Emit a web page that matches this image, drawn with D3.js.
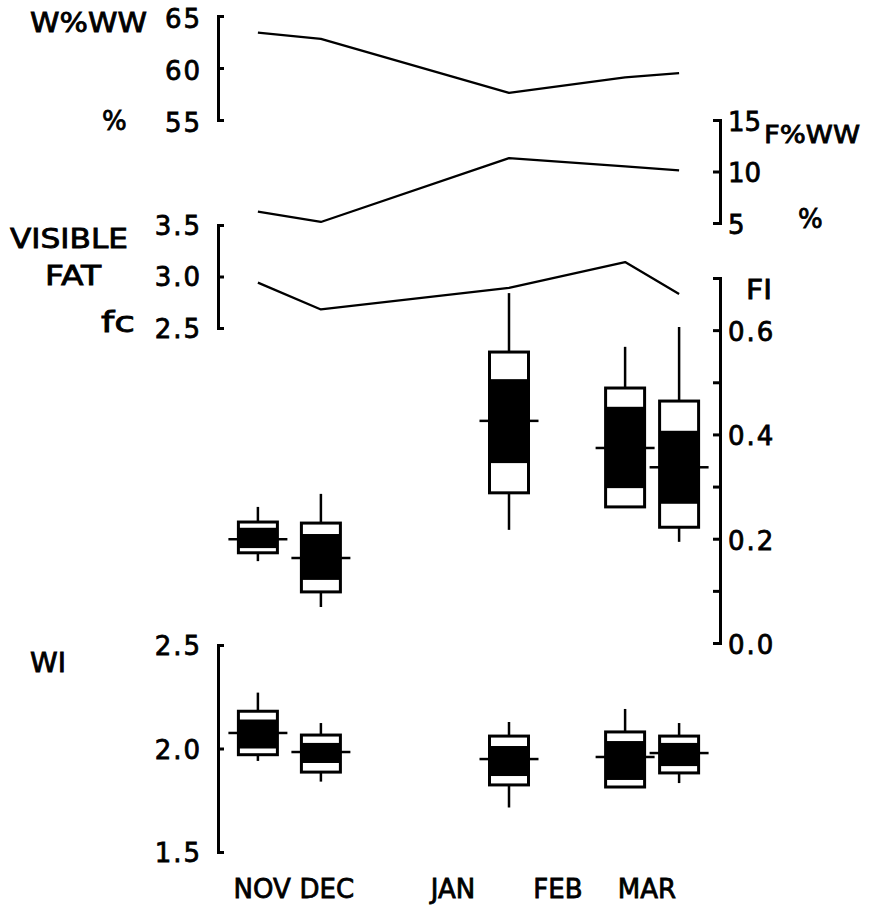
<!DOCTYPE html>
<html><head><meta charset="utf-8">
<script src="https://cdn.jsdelivr.net/npm/d3@7"></script>
<style>
body{margin:0;background:#fff;}
svg text{font-family:"DejaVu Sans",sans-serif;fill:#000;stroke:#000;stroke-width:0.8px;}
</style></head><body>
<svg id="chart" width="874" height="905"></svg>
<script>
// ---- data ----
const months = ["NOV","DEC","JAN","FEB","MAR"];
const sampleDay = [13.3, 34.3, 97, 135.7, 153.7];      // days since 1 Nov of each sample
const monthLabelDay = [14.7, 36.3, 78.3, 113.3, 143];  // label positions (days)
const waterPct = [63.4, 62.8, 57.6, 59.1, 59.5];       // W%WW
const fatPct = [6.1, 5.1, 11.3, 10.5, 10.1];           // F%WW
const visibleFat = [2.94, 2.68, 2.89, 3.14, 2.83];     // fat class

// FI box stats
const fiMin   = [0.157, 0.069, 0.217, 0.261, 0.194];
const fiBoxLo = [0.173, 0.098, 0.288, 0.261, 0.222];
const fiBlkLo = [0.182, 0.121, 0.345, 0.297, 0.267];
const fiMid   = [0.199, 0.163, 0.426, 0.374, 0.337];
const fiBlkHi = [0.221, 0.209, 0.506, 0.453, 0.407];
const fiBoxHi = [0.232, 0.230, 0.558, 0.489, 0.464];
const fiMax   = [0.261, 0.286, 0.671, 0.568, 0.606];

// WI box stats
const wiMin   = [1.940, 1.840, 1.715, 1.814, 1.833];
const wiBoxLo = [1.970, 1.886, 1.824, 1.814, 1.882];
const wiBlkLo = [2.000, 1.930, 1.867, 1.848, 1.915];
const wiMid   = [2.075, 1.983, 1.949, 1.959, 1.978];
const wiBlkHi = [2.140, 2.027, 2.012, 2.036, 2.027];
const wiBoxHi = [2.180, 2.065, 2.060, 2.080, 2.060];
const wiMax   = [2.270, 2.123, 2.128, 2.191, 2.123];

// tick values
const wTicks  = [55, 60, 65];
const fTicks  = [5, 10, 15];
const vfTicks = [2.5, 3.0, 3.5];
const fiTicks = [0, 0.1, 0.2, 0.3, 0.4, 0.5, 0.6];
const wiTicks = [1.5, 2.0, 2.5];

// ---- scales ----
const svg = d3.select("#chart");
const x = d3.scaleLinear().domain([0, 150]).range([218, 668]);
const yW  = d3.scaleLinear().domain([55, 65]).range([120, 16]);
const yF  = d3.scaleLinear().domain([5, 15]).range([223, 120]);
const yVF = d3.scaleLinear().domain([2.5, 3.5]).range([328, 225]);
const yFI = d3.scaleLinear().domain([0, 0.7]).range([643, 278]);
const yWI = d3.scaleLinear().domain([1.5, 2.5]).range([852, 645]);

const FS = 26;

function styleAxis(g){
  g.attr("font-size", null).attr("font-family", null);
  g.selectAll("path.domain").attr("stroke","#000").attr("stroke-width",3).attr("fill","none");
  g.selectAll(".tick line").attr("stroke","#000").attr("stroke-width",3);
  g.selectAll(".tick text").attr("font-size", FS).attr("letter-spacing", 2);
}

// left-side bracket axes: ticks point right, labels on the left
function leftBracket(scale, ticks, fmt, dyOff){
  const g = svg.append("g").attr("transform","translate(218,0)")
    .call(d3.axisRight(scale).tickValues(ticks).tickSize(6).tickSizeOuter(6).tickFormat(fmt));
  styleAxis(g);
  g.selectAll(".tick text").attr("x",-16).attr("text-anchor","end").attr("dy", dyOff);
  return g;
}
leftBracket(yW, wTicks, d3.format("d"), "0.45em");
leftBracket(yVF, vfTicks, d3.format(".1f"), "0.35em");
leftBracket(yWI, wiTicks, d3.format(".1f"), "0.38em");

// right-side axes: ticks point left, labels on the right
function rightBracket(scale, ticks, fmt, dyOff){
  const g = svg.append("g").attr("transform","translate(720,0)")
    .call(d3.axisLeft(scale).tickValues(ticks).tickSize(7).tickSizeOuter(7).tickFormat(fmt));
  styleAxis(g);
  g.selectAll(".tick text").attr("x",8).attr("text-anchor","start").attr("dy", dyOff);
  return g;
}
const gF = rightBracket(yF, fTicks, d3.format("d"), "0.4em");
gF.selectAll(".tick text").attr("letter-spacing", 0);
rightBracket(yFI, fiTicks, d => (Math.round(d*10) % 2 === 0 ? d3.format(".1f")(d) : ""), "0.4em");

// ---- lines ----
function drawLine(vals, yScale){
  const line = d3.line().x((d,i)=>x(sampleDay[i])).y(d=>yScale(d));
  svg.append("path").datum(vals).attr("d", line)
    .attr("fill","none").attr("stroke","#000").attr("stroke-width",2.3).attr("stroke-linejoin","round");
}
drawLine(waterPct, yW);
drawLine(fatPct, yF);
drawLine(visibleFat, yVF);

// ---- box plots ----
function drawBoxes(yScale, mn, bLo, kLo, mid, kHi, bHi, mx){
  const hw = 19.5, tk = 10;
  const g = svg.append("g");
  sampleDay.forEach((d,i)=>{
    const cx = x(d);
    const gi = g.append("g");
    gi.append("line").attr("x1",cx).attr("x2",cx).attr("y1",yScale(mx[i])).attr("y2",yScale(bHi[i]))
      .attr("stroke","#000").attr("stroke-width",2.5);
    gi.append("line").attr("x1",cx).attr("x2",cx).attr("y1",yScale(bLo[i])).attr("y2",yScale(mn[i]))
      .attr("stroke","#000").attr("stroke-width",2.5);
    gi.append("rect").attr("x",cx-hw).attr("width",hw*2)
      .attr("y",yScale(bHi[i])).attr("height",yScale(bLo[i])-yScale(bHi[i]))
      .attr("fill","#fff");
    gi.append("rect").attr("x",cx-hw).attr("width",hw*2)
      .attr("y",yScale(kHi[i])).attr("height",yScale(kLo[i])-yScale(kHi[i]))
      .attr("fill","#000");
    gi.append("rect").attr("x",cx-hw).attr("width",hw*2)
      .attr("y",yScale(bHi[i])).attr("height",yScale(bLo[i])-yScale(bHi[i]))
      .attr("fill","none").attr("stroke","#000").attr("stroke-width",3);
    gi.append("line").attr("x1",cx-hw-tk).attr("x2",cx-hw).attr("y1",yScale(mid[i])).attr("y2",yScale(mid[i]))
      .attr("stroke","#000").attr("stroke-width",2.5);
    gi.append("line").attr("x1",cx+hw).attr("x2",cx+hw+tk).attr("y1",yScale(mid[i])).attr("y2",yScale(mid[i]))
      .attr("stroke","#000").attr("stroke-width",2.5);
  });
}
drawBoxes(yFI, fiMin, fiBoxLo, fiBlkLo, fiMid, fiBlkHi, fiBoxHi, fiMax);
drawBoxes(yWI, wiMin, wiBoxLo, wiBlkLo, wiMid, wiBlkHi, wiBoxHi, wiMax);

// ---- month labels ----
svg.append("g").selectAll("text").data(months).join("text")
  .attr("x",(d,i)=>x(monthLabelDay[i])).attr("y",898)
  .attr("text-anchor","middle").attr("font-size",26).text(d=>d);

// ---- titles ----
function label(t, xx, yy, len, size){
  const el = svg.append("text").attr("x",xx).attr("y",yy).attr("font-size",size||FS).text(t);
  if (len) el.attr("textLength",len).attr("lengthAdjust","spacingAndGlyphs");
}
label("W%WW", 30, 32, 117);
label("%", 102, 130);
label("VISIBLE", 10, 248, 118);
label("FAT", 45, 285, 56);
label("fc", 101, 332, 34, 28);
label("WI", 30, 672, 36);
label("F%WW", 764, 143, 96, 24);
label("%", 798, 228);
label("FI", 746, 299, 26);
</script>
</body></html>
